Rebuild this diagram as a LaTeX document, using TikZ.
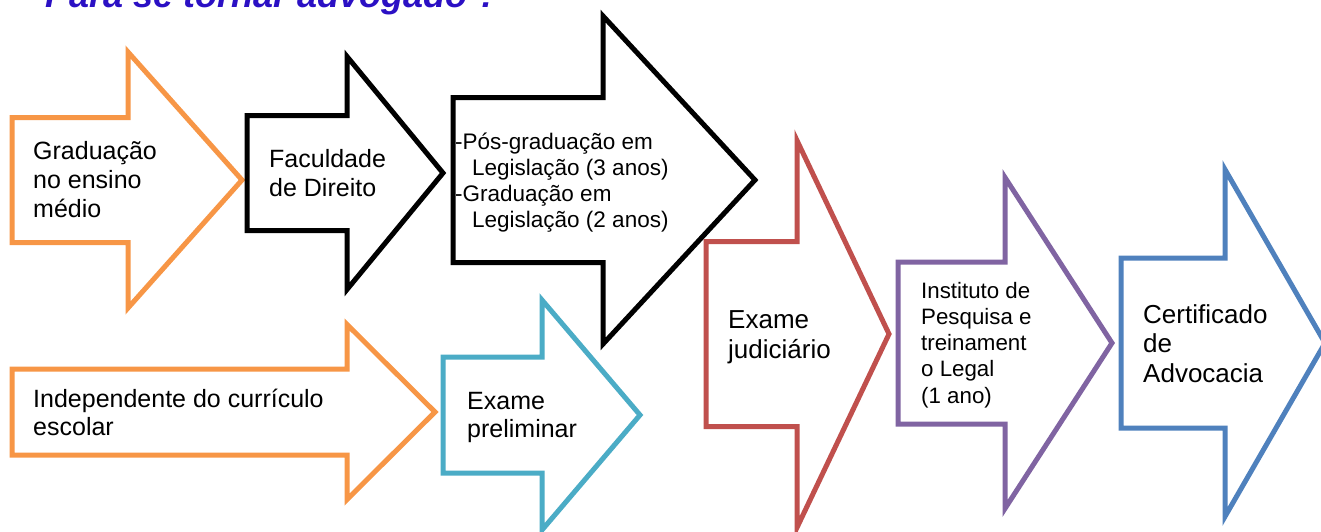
\documentclass[tikz,border=0pt]{standalone}
\usepackage{fontspec}
\setmainfont{Liberation Sans}
\usetikzlibrary{positioning}

\definecolor{offorange}{HTML}{F79646}
\definecolor{offcyan}{HTML}{4BACC6}
\definecolor{offred}{HTML}{C0504D}
\definecolor{offpurple}{HTML}{8064A2}
\definecolor{offblue}{HTML}{4F81BD}
\definecolor{titleblue}{HTML}{2B10C4}

\begin{document}
\begin{tikzpicture}[x=1pt,y=-1pt]
          \tikzstyle{blockarrow} = [line width=5pt, line join=miter, fill=white]
          \tikzstyle{arrowtext} = [anchor=base west, inner sep=0pt, align=left]

          \clip (0,0) rectangle (1321,531);

          % Title
          \node[arrowtext, font=\fontsize{36}{40}\selectfont\bfseries\itshape, text=titleblue] (title) at (45,7) {Para se tornar advogado ?};

          % Arrows: colour / left / neck / tip / middle / half shaft / half head
          \foreach \col / \xl / \xn / \xt / \ym / \hs / \hh in {offorange/12/128/242/180/62.5/128,
              black/247/347/443/173/57.5/116.5, black/453/603/755/180/82.5/164,
              offorange/12/347/435/412/43/87.5, offcyan/443/542/640/415/58/115,
              offred/706/797/889/334/92.5/193.5, offpurple/898/1005/1112/343/81/165.5,
              offblue/1121/1225/1325/343/85/173.5}
            \draw[blockarrow, draw=\col] (\xl,\ym-\hs) -- (\xn,\ym-\hs) -- (\xn,\ym-\hh) -- (\xt,\ym)
              -- (\xn,\ym+\hh) -- (\xn,\ym+\hs) -- (\xl,\ym+\hs) -- cycle;

          % Texts (placed at the baseline of their last line)
          \node[arrowtext, font=\fontsize{25}{29}\selectfont] (grad) at (33,217) {Graduação\\no ensino\\médio};
          \node[arrowtext, font=\fontsize{25}{29}\selectfont] (facul) at (269,196) {Faculdade\\de Direito};
          \node[arrowtext, font=\fontsize{22.5}{25.7}\selectfont] (posgrad) at (455,227)
            {-Pós-graduação em\\\hspace*{17pt}Legislação (3 anos)\\-Graduação em\\\hspace*{17pt}Legislação (2 anos)};
          \node[arrowtext, font=\fontsize{25}{28}\selectfont] (indep) at (33,435) {Independente do currículo\\escolar};
          \node[arrowtext, font=\fontsize{25}{27.5}\selectfont] (prelim) at (467,437) {Exame\\preliminar};
          \node[arrowtext, font=\fontsize{26}{30}\selectfont] (judic) at (728,358) {Exame\\judiciário};
          \node[arrowtext, font=\fontsize{22.3}{26.2}\selectfont] (inst) at (921,403)
            {Instituto de\\Pesquisa e\\treinament\\o Legal\\(1 ano)};
          \node[arrowtext, font=\fontsize{26}{29.5}\selectfont] (cert) at (1143,382) {Certificado\\de\\Advocacia};

        \end{tikzpicture}
\end{document}
